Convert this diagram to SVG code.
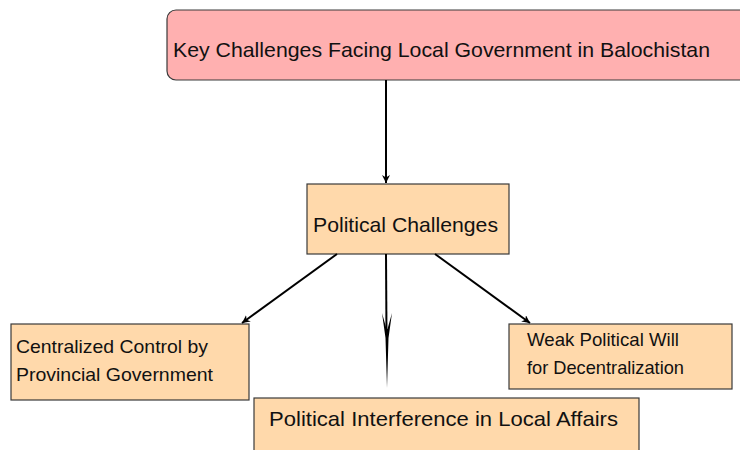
<svg xmlns="http://www.w3.org/2000/svg" width="740" height="450" viewBox="0 0 740 450">
  <style>
    .title { fill: #ffb0b0; stroke: #3a3a3a; stroke-width: 1.2; }
    .node { fill: #ffd9ab; stroke: #3a3a3a; stroke-width: 1.2; }
    .label { font-family: "Liberation Sans", Arial, sans-serif; fill: #111111; }
    .edge { stroke: #000000; stroke-width: 2; fill: none; }
  </style>
  <defs>
    <marker id="arrow" viewBox="0 0 10 10" refX="10" refY="5" markerWidth="8" markerHeight="8" orient="auto" markerUnits="userSpaceOnUse">
      <path d="M0,0 L10,5 L0,10 L3,5 Z" fill="#000000"/>
    </marker>
  </defs>

  <g id="node-root">
    <rect class="title" x="167" y="10" width="600" height="70" rx="9"/>
    <text class="label" x="173" y="57" font-size="21" textLength="537" lengthAdjust="spacingAndGlyphs">Key Challenges Facing Local Government in Balochistan</text>
  </g>

  <g id="node-political">
    <rect class="node" x="307" y="184" width="202" height="70"/>
    <text class="label" x="313" y="232" font-size="21" textLength="185" lengthAdjust="spacingAndGlyphs">Political Challenges</text>
  </g>

  <g id="node-centralized">
    <rect class="node" x="11" y="324" width="238" height="76"/>
    <text class="label" x="16" y="353" font-size="18.5" textLength="192" lengthAdjust="spacingAndGlyphs">Centralized Control by</text>
    <text class="label" x="16" y="381" font-size="18.5" textLength="197" lengthAdjust="spacingAndGlyphs">Provincial Government</text>
  </g>

  <g id="node-weak-will">
    <rect class="node" x="509" y="324" width="223" height="65"/>
    <text class="label" x="527" y="346" font-size="18.5" textLength="152" lengthAdjust="spacingAndGlyphs">Weak Political Will</text>
    <text class="label" x="527" y="374" font-size="18.5" textLength="157" lengthAdjust="spacingAndGlyphs">for Decentralization</text>
  </g>

  <g id="node-interference">
    <rect class="node" x="254" y="398" width="385" height="70"/>
    <text class="label" x="269" y="426" font-size="21" textLength="349" lengthAdjust="spacingAndGlyphs">Political Interference in Local Affairs</text>
  </g>

  <g id="connectors">
    <line class="edge" x1="386" y1="80" x2="386" y2="183" marker-end="url(#arrow)"/>
    <line class="edge" x1="337" y1="254" x2="242" y2="323" marker-end="url(#arrow)"/>
    <line class="edge" x1="435" y1="254" x2="530" y2="323" marker-end="url(#arrow)"/>
    <line class="edge" x1="386" y1="254" x2="386.5" y2="335"/>
    <path d="M382,313 L385.5,338 L387,388 L388.5,338 L392,313 L387.5,329 L386.5,329 Z" fill="#000000"/>
  </g>
</svg>
